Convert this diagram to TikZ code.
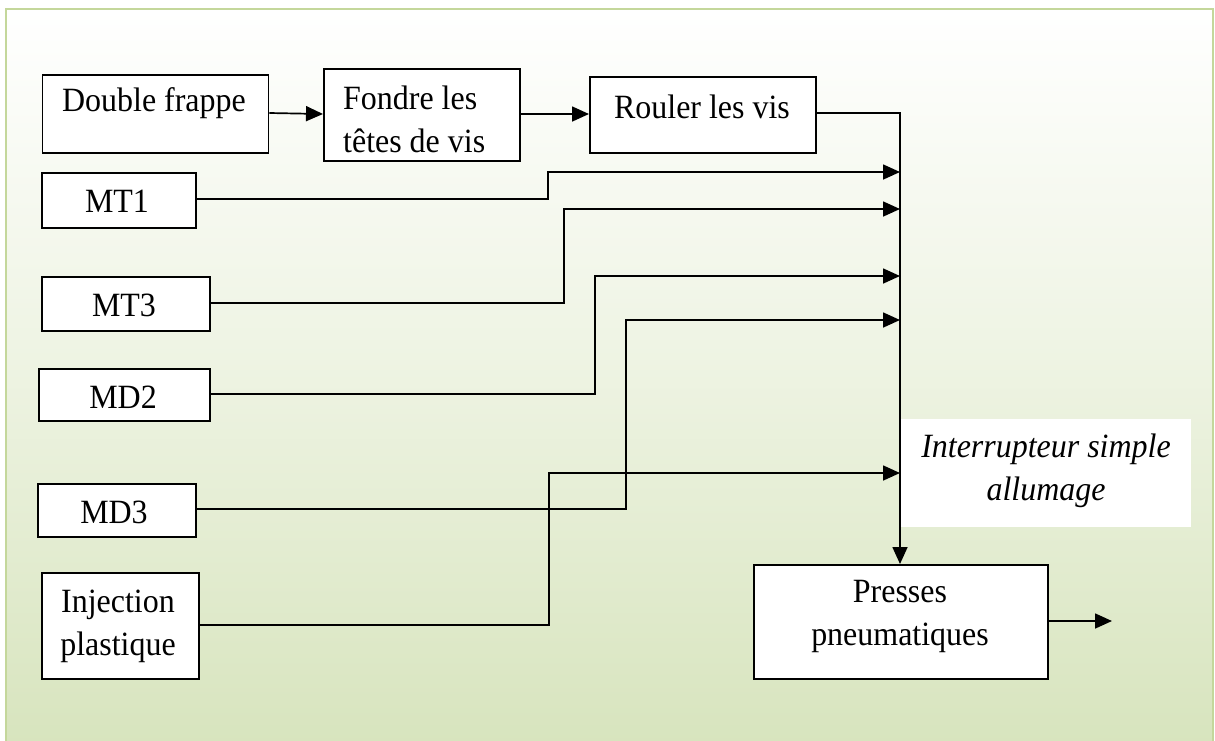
\documentclass[tikz,border=0pt]{standalone}
\usepackage{fontspec}
\setmainfont[FakeStretch=0.94]{Liberation Serif}
\usetikzlibrary{arrows.meta}
\definecolor{frameGreen}{RGB}{196,215,155}
\definecolor{fillGreen}{RGB}{215,228,189}
\tikzset{
  blk/.style={draw=black, line width=1.8pt, fill=white, inner sep=0pt},
  lbl/.style={inner sep=0pt, font=\fontsize{34}{43}\selectfont},
  wire/.style={line width=1.7pt, line join=miter},
  flow/.style={wire, -{Triangle[length=17pt,width=15pt]}},
}
\begin{document}
\begin{tikzpicture}[x=1pt,y=-1pt]
\useasboundingbox (0,0) rectangle (1215,740);
% background panel with gradient and green frame
\begin{scope}
\clip (0,0) rectangle (1215,740);
\shade[top color=white, bottom color=fillGreen, middle color=white!55!fillGreen]
  (6,9) rectangle (1213,750);
\draw[frameGreen, line width=2.5pt] (6,9) rectangle (1213,750);
\end{scope}

% process boxes
\node[blk, minimum width=226pt, minimum height=78pt, anchor=north west] (dbl) at (41.5,74) {};
\node[lbl] (dblT) at (154,103) {Double frappe};

\node[blk, minimum width=196pt, minimum height=92pt, anchor=north west] (fon) at (323,68) {};
\node[lbl, anchor=west, align=left] (fonT) at (343,119) {Fondre les\\têtes de vis};

\node[blk, minimum width=226pt, minimum height=76pt, anchor=north west] (rou) at (589,76) {};
\node[lbl] (rouT) at (702,107) {Rouler les vis};

\node[blk, minimum width=154pt, minimum height=55pt, anchor=north west] (mt1) at (41,172) {};
\node[lbl] (mt1T) at (117,201) {MT1};

\node[blk, minimum width=168pt, minimum height=54pt, anchor=north west] (mt3) at (41,276) {};
\node[lbl] (mt3T) at (124,305) {MT3};

\node[blk, minimum width=171pt, minimum height=52pt, anchor=north west] (md2) at (38,368) {};
\node[lbl] (md2T) at (123,397) {MD2};

\node[blk, minimum width=158pt, minimum height=53pt, anchor=north west] (md3) at (37,483) {};
\node[lbl] (md3T) at (114,512) {MD3};

\node[blk, minimum width=157pt, minimum height=106pt, anchor=north west] (inj) at (41,572) {};
\node[lbl, align=center] (injT) at (118,626) {Injection\\plastique};

\node[blk, minimum width=294pt, minimum height=114pt, anchor=north west] (pre) at (753,564) {};
\node[lbl, align=center] (preT) at (900,616) {Presses\\pneumatiques};

% label for the switch
\node[fill=white, minimum width=290pt, minimum height=108pt, anchor=north west, inner sep=0pt] (swbg) at (901,419) {};
\node[lbl, align=center, font=\fontsize{34}{43}\selectfont\itshape] (sw) at (1046,471) {Interrupteur simple\\allumage};

% junction points on the collecting line
\coordinate (bTop) at (900,113);
\coordinate (b1) at (900,172);
\coordinate (b2) at (900,209);
\coordinate (b3) at (900,276);
\coordinate (b4) at (900,320);
\coordinate (b5) at (900,473);
\coordinate (outEnd) at (1112,621);

% main sequence
\draw[flow] (dbl.east |- 0,113) -- (fon.west |- 0,114);
\draw[flow] (fon.east |- 0,114) -- (rou.west |- 0,114);
\draw[flow] (rou.east |- bTop) -- (bTop) -- (pre.north -| bTop);

% inputs gathered on the collecting line
\draw[flow] (mt1.east |- 0,199) -- (548,199) -- (548,172) -- (b1);
\draw[flow] (mt3.east |- 0,303) -- (564,303) -- (564,209) -- (b2);
\draw[flow] (md2.east |- 0,394) -- (595,394) -- (595,276) -- (b3);
\draw[flow] (md3.east |- 0,509) -- (626,509) -- (626,320) -- (b4);
\draw[flow] (inj.east |- 0,625) -- (549,625) -- (549,473) -- (b5);

% output
\draw[flow] (pre.east |- outEnd) -- (outEnd);
\end{tikzpicture}
\end{document}
